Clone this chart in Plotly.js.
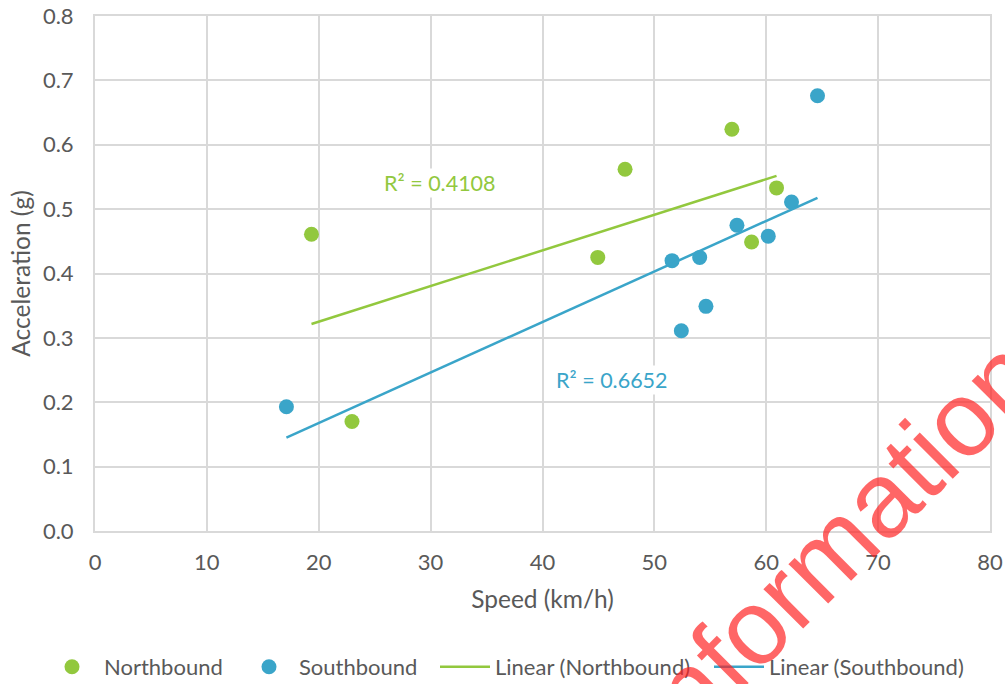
<!DOCTYPE html>
<html>
<head>
<meta charset="utf-8">
<script src="https://cdn.plot.ly/plotly-3.0.1.min.js"></script>
<style>html,body{margin:0;padding:0;background:#fff;}#chart{width:1005px;height:684px;}</style>
</head>
<body>
<div id="chart"></div>
<script>
// Data
const northSpeed = [19.35, 22.97, 44.94, 47.38, 56.93, 60.92, 58.69];
const northAccel = [0.461, 0.170, 0.425, 0.562, 0.624, 0.533, 0.449];
const southSpeed = [17.11, 51.58, 54.05, 52.41, 54.61, 57.38, 60.18, 62.26, 64.58];
const southAccel = [0.193, 0.420, 0.425, 0.311, 0.349, 0.475, 0.458, 0.511, 0.676];
const seriesNames = ["Northbound", "Southbound", "Linear (Northbound)", "Linear (Southbound)"];
const rSquaredLabels = ["R² = 0.4108", "R² = 0.6652"];
const xTicks = [0, 10, 20, 30, 40, 50, 60, 70, 80];
const yTicks = [0.0, 0.1, 0.2, 0.3, 0.4, 0.5, 0.6, 0.7, 0.8];
const watermarkText = "Information";

const GREEN = "#92c83e";
const BLUE = "#3aa5c9";
const GRID = "#d9d9d9";
const TXT = "#595959";
const FONT = "Lato, 'Open Sans', sans-serif";

function linFit(xs, ys) {
  const n = xs.length;
  const mx = xs.reduce((a, b) => a + b, 0) / n;
  const my = ys.reduce((a, b) => a + b, 0) / n;
  let sxy = 0, sxx = 0;
  for (let i = 0; i < n; i++) { sxy += (xs[i] - mx) * (ys[i] - my); sxx += (xs[i] - mx) ** 2; }
  const m = sxy / sxx, b = my - m * mx;
  const x0 = Math.min(...xs), x1 = Math.max(...xs);
  return { x: [x0, x1], y: [m * x0 + b, m * x1 + b] };
}
const nFit = linFit(northSpeed, northAccel);
const sFit = linFit(southSpeed, southAccel);

const traces = [
  { type: "scatter", mode: "markers", x: northSpeed, y: northAccel, name: seriesNames[0],
    marker: { color: GREEN, size: 15 }, legend: "legend" },
  { type: "scatter", mode: "markers", x: southSpeed, y: southAccel, name: seriesNames[1],
    marker: { color: BLUE, size: 15 }, legend: "legend2" },
  { type: "scatter", mode: "lines", x: nFit.x, y: nFit.y, name: seriesNames[2],
    line: { color: GREEN, width: 2.5 }, legend: "legend3" },
  { type: "scatter", mode: "lines", x: sFit.x, y: sFit.y, name: seriesNames[3],
    line: { color: BLUE, width: 2.5 }, legend: "legend4" }
];

function legendAt(px, iw) {
  return { orientation: "h", xref: "container", yref: "container", x: px / 1005, xanchor: "left",
           y: 0.025, yanchor: "middle", bgcolor: "rgba(0,0,0,0)",
           font: { size: 22, color: TXT, family: FONT }, itemwidth: iw };
}

const layout = {
  width: 1005, height: 684,
  margin: { l: 95, r: 15, t: 16, b: 153 },
  paper_bgcolor: "#fff", plot_bgcolor: "#fff",
  font: { family: FONT, color: TXT, size: 22 },
  showlegend: true,
  legend: legendAt(40, 54),
  legend2: legendAt(239, 50),
  legend3: legendAt(435, 50),
  legend4: legendAt(709, 50),
  xaxis: {
    range: [0, 80], tickvals: xTicks, ticktext: xTicks.map(String), automargin: false,
    showgrid: true, gridcolor: GRID, gridwidth: 2, zeroline: false,
    showline: true, linecolor: GRID, linewidth: 2, mirror: true,
    ticks: "", ticklabelstandoff: 11, tickfont: { size: 22, color: TXT },
    title: { text: "Speed (km/h)", font: { size: 24.5, color: TXT }, standoff: 16 },
    fixedrange: true
  },
  yaxis: {
    range: [0, 0.8], tickvals: yTicks, ticktext: yTicks.map(v => v.toFixed(1)), automargin: false,
    showgrid: true, gridcolor: GRID, gridwidth: 2, zeroline: false,
    showline: true, linecolor: GRID, linewidth: 2, mirror: true,
    ticks: "", ticklabelstandoff: 15, tickfont: { size: 22, color: TXT },
    title: { text: "Acceleration (g)", font: { size: 24.5, color: TXT }, standoff: 5 },
    fixedrange: true
  },
  annotations: [
    { x: 30.8, y: 0.540, xref: "x", yref: "y", text: rSquaredLabels[0], showarrow: false,
      xanchor: "center", yanchor: "middle",
      font: { size: 21.5, color: GREEN, family: FONT }, bgcolor: "#fff" },
    { x: 46.25, y: 0.234, xref: "x", yref: "y", text: rSquaredLabels[1], showarrow: false,
      xanchor: "center", yanchor: "middle",
      font: { size: 21.5, color: BLUE, family: FONT }, bgcolor: "#fff" },
    { x: 0.826, y: -0.027, xref: "paper", yref: "paper", text: watermarkText, showarrow: false,
      xanchor: "center", yanchor: "middle", textangle: -45,
      font: { size: 106, color: "rgba(255,30,30,0.68)", family: "'Liberation Sans', Arial, sans-serif" } }
  ]
};

Plotly.newPlot("chart", traces, layout, { displayModeBar: false, staticPlot: true });
</script>
</body>
</html>
